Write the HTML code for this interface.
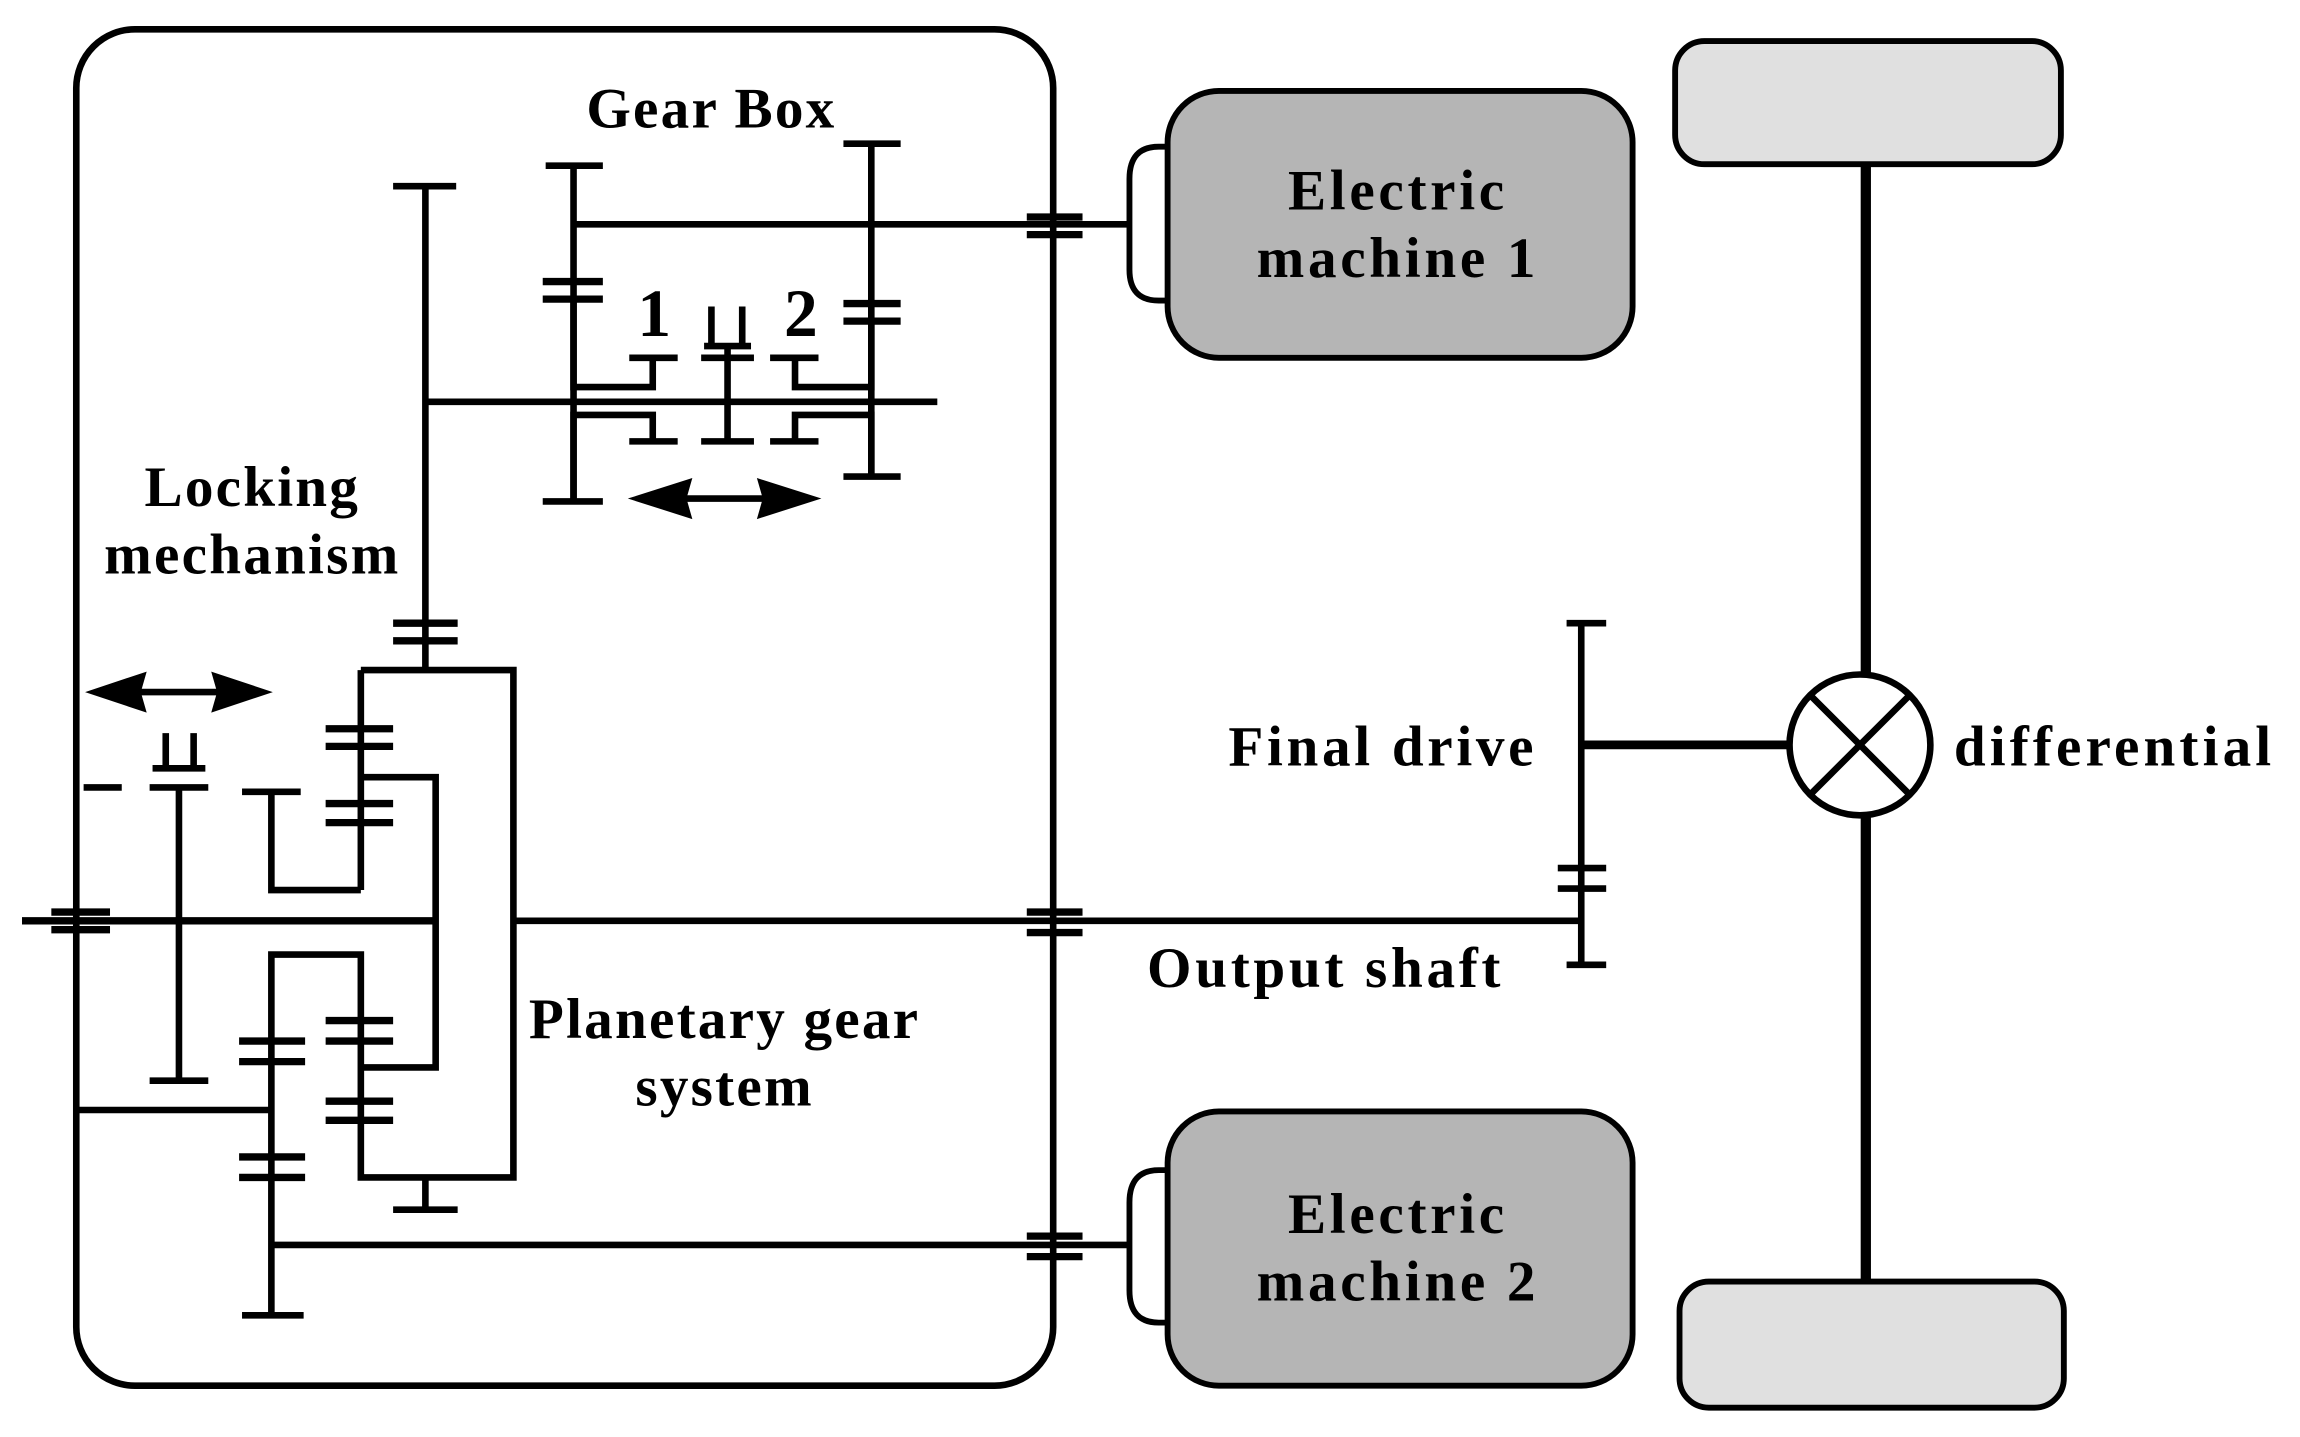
<!DOCTYPE html>
<html><head><meta charset="utf-8"><style>
html,body{margin:0;padding:0;background:#fff;}
svg{display:block;}
text{font-family:"Liberation Serif",serif;font-weight:bold;fill:#000;}
</style></head><body>
<svg width="2300" height="1437" viewBox="0 0 1568 980" preserveAspectRatio="none" xmlns="http://www.w3.org/2000/svg">
<g fill="none" stroke="#000" stroke-width="4.5">
<!-- main box -->
<rect x="52" y="20" width="666" height="925" rx="40"/>
<!-- gearbox -->
<line x1="391" y1="113" x2="391" y2="342"/>
<line x1="372" y1="113" x2="411" y2="113"/>
<line x1="370" y1="342" x2="411" y2="342"/>
<line x1="370" y1="192" x2="411" y2="192" stroke-width="5"/>
<line x1="370" y1="204" x2="411" y2="204" stroke-width="5"/>
<line x1="594" y1="98" x2="594" y2="325"/>
<line x1="575" y1="98" x2="614" y2="98"/>
<line x1="575" y1="325" x2="614" y2="325"/>
<line x1="575" y1="207" x2="614" y2="207" stroke-width="5"/>
<line x1="575" y1="219" x2="614" y2="219" stroke-width="5"/>
<line x1="391" y1="153" x2="770" y2="153"/>
<line x1="290" y1="274" x2="639" y2="274"/>
<line x1="290" y1="127" x2="290" y2="457"/>
<line x1="268" y1="127" x2="311" y2="127"/>
<line x1="268" y1="425" x2="312" y2="425" stroke-width="5"/>
<line x1="268" y1="437" x2="312" y2="437" stroke-width="5"/>
<!-- sleeves -->
<path d="M391 204 L391 264 L445 264 L445 244"/>
<line x1="429" y1="244" x2="462" y2="244"/>
<path d="M594 219 L594 264 L542 264 L542 244"/>
<line x1="525" y1="244" x2="558" y2="244"/>
<path d="M391 342 L391 283 L445 283 L445 301"/>
<line x1="429" y1="301" x2="462" y2="301"/>
<path d="M594 325 L594 283 L542 283 L542 301"/>
<line x1="525" y1="301" x2="558" y2="301"/>
<line x1="496" y1="236" x2="496" y2="301"/>
<line x1="478" y1="244" x2="514" y2="244"/>
<line x1="478" y1="301" x2="514" y2="301"/>
<line x1="480" y1="236" x2="512" y2="236"/>
<line x1="485" y1="209" x2="485" y2="236"/>
<line x1="506" y1="209" x2="506" y2="236"/>
<!-- couplings -->
<g stroke-width="5">
<line x1="700" y1="148" x2="738" y2="148"/><line x1="700" y1="160" x2="738" y2="160"/>
<line x1="700" y1="622" x2="738" y2="622"/><line x1="700" y1="636" x2="738" y2="636"/>
<line x1="700" y1="843" x2="738" y2="843"/><line x1="700" y1="857" x2="738" y2="857"/>
<line x1="35" y1="622" x2="75" y2="622"/><line x1="35" y1="634" x2="75" y2="634"/>
</g>
<!-- planetary -->
<path d="M246 457 L350 457 L350 803 L246 803 L246 651 L185 651 L185 897"/>
<line x1="246" y1="457" x2="246" y2="607"/>
<path d="M185 540 L185 607 L246 607"/>
<line x1="165" y1="540" x2="205" y2="540"/>
<path d="M246 530 L297 530 L297 728 L246 728"/>
<line x1="15" y1="628" x2="297" y2="628" stroke-width="5"/>
<line x1="350" y1="628" x2="1080" y2="628"/>
<g stroke-width="5">
<line x1="222" y1="497" x2="268" y2="497"/><line x1="222" y1="509" x2="268" y2="509"/>
<line x1="222" y1="548" x2="268" y2="548"/><line x1="222" y1="561" x2="268" y2="561"/>
<line x1="222" y1="696" x2="268" y2="696"/><line x1="222" y1="710" x2="268" y2="710"/>
<line x1="222" y1="751" x2="268" y2="751"/><line x1="222" y1="764" x2="268" y2="764"/>
<line x1="163" y1="710" x2="208" y2="710"/><line x1="163" y1="724" x2="208" y2="724"/>
<line x1="163" y1="789" x2="208" y2="789"/><line x1="163" y1="803" x2="208" y2="803"/>
</g>
<line x1="165" y1="897" x2="207" y2="897"/>
<line x1="52" y1="757" x2="185" y2="757"/>
<line x1="185" y1="849" x2="770" y2="849"/>
<line x1="290" y1="803" x2="290" y2="825"/>
<line x1="268" y1="825" x2="312" y2="825"/>
<!-- locking -->
<line x1="122" y1="537" x2="122" y2="737"/>
<line x1="102" y1="737" x2="142" y2="737"/>
<line x1="102" y1="537" x2="142" y2="537"/>
<line x1="104" y1="524" x2="140" y2="524"/>
<line x1="113" y1="500" x2="113" y2="524"/>
<line x1="132" y1="500" x2="132" y2="524"/>
<line x1="57" y1="537" x2="83" y2="537"/>
<line x1="74" y1="472" x2="170" y2="472"/>
<line x1="445" y1="340" x2="540" y2="340"/>
<!-- final drive -->
<line x1="1078" y1="425" x2="1078" y2="658"/>
<line x1="1068" y1="425" x2="1095" y2="425"/>
<line x1="1068" y1="658" x2="1095" y2="658"/>
<line x1="1062" y1="592" x2="1095" y2="592"/>
<line x1="1062" y1="606" x2="1095" y2="606"/>
<line x1="1078" y1="508" x2="1222" y2="508" stroke-width="6"/>
<line x1="1272" y1="112" x2="1272" y2="462" stroke-width="7"/>
<line x1="1272" y1="554" x2="1272" y2="874" stroke-width="7"/>
<circle cx="1268" cy="508" r="48"/>
<line x1="1234" y1="474" x2="1302" y2="542"/>
<line x1="1302" y1="474" x2="1234" y2="542"/>
</g>
<g fill="#000">
<polygon points="58,472 100,458 96,472 100,486"/>
<polygon points="186,472 144,458 148,472 144,486"/>
<polygon points="428,340 472,326 468,340 472,354"/>
<polygon points="560,340 516,326 520,340 516,354"/>
</g>
<g stroke="#000" stroke-width="4">
<path d="M800 100 L790 100 Q770 100 770 122 L770 184 Q770 205 790 205 L800 205" fill="#fff"/>
<rect x="796" y="62" width="317" height="182" rx="35" fill="#b5b5b5"/>
<path d="M800 798 L790 798 Q770 798 770 820 L770 880 Q770 902 790 902 L800 902" fill="#fff"/>
<rect x="796" y="758" width="317" height="187" rx="35" fill="#b5b5b5"/>
<rect x="1142" y="28" width="263" height="84" rx="20" fill="#e0e0e0"/>
<rect x="1145" y="874" width="262" height="86" rx="20" fill="#e0e0e0"/>
</g>
<g font-size="39">
<text x="485" y="87" text-anchor="middle" letter-spacing="1.5">Gear Box</text>
<text x="172" y="345" text-anchor="middle" letter-spacing="1.5">Locking</text>
<text x="172" y="391" text-anchor="middle" letter-spacing="1.5">mechanism</text>
<text x="494" y="708" text-anchor="middle" letter-spacing="1.5">Planetary gear</text>
<text x="494" y="754" text-anchor="middle" letter-spacing="1.5">system</text>
<text x="953" y="143" text-anchor="middle" letter-spacing="2.5">Electric</text>
<text x="953" y="189" text-anchor="middle" letter-spacing="2.5">machine 1</text>
<text x="953" y="841" text-anchor="middle" letter-spacing="2.5">Electric</text>
<text x="953" y="887" text-anchor="middle" letter-spacing="2.5">machine 2</text>
<text x="1048" y="522" text-anchor="end" letter-spacing="2.5">Final drive</text>
<text x="1332" y="522" letter-spacing="2.8">differential</text>
<text x="782" y="673" letter-spacing="2.5">Output shaft</text>
</g>
<g font-size="46" style="font-family:'Liberation Sans',sans-serif;font-weight:normal">
<text x="446" y="229" text-anchor="middle">1</text>
<text x="546" y="229" text-anchor="middle">2</text>
</g>
</svg>
</body></html>
